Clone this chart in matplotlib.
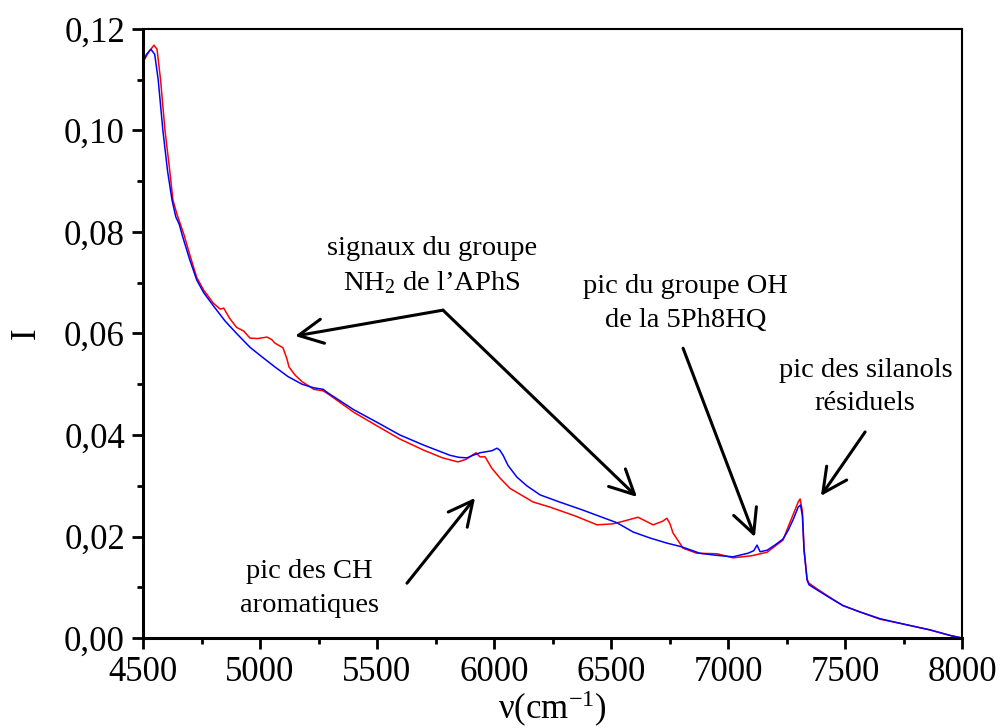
import matplotlib
matplotlib.use("Agg")
import matplotlib.pyplot as plt
from matplotlib.ticker import FuncFormatter, MultipleLocator

plt.rcParams['font.family'] = ['Liberation Serif', 'DejaVu Serif']
plt.rcParams['mathtext.fontset'] = 'custom'
plt.rcParams['mathtext.rm'] = 'Liberation Serif'
plt.rcParams['mathtext.it'] = 'Liberation Serif:italic'

# spectre bleu
wn_blue = [4500, 4515, 4534, 4550, 4565, 4585, 4605, 4624, 4640, 4655, 4670, 4700,
           4730, 4760, 4800, 4850, 4900, 4957, 5000, 5064, 5120, 5180, 5230, 5270,
           5290, 5350, 5400, 5500, 5598, 5700, 5812, 5850, 5885, 5910, 5940, 5991,
           6013, 6025, 6039, 6060, 6098, 6140, 6197, 6280, 6380, 6450, 6526, 6594,
           6667, 6739, 6800, 6880, 6950, 7021, 7085, 7110, 7124, 7137, 7167, 7200,
           7235, 7257, 7280, 7300, 7310, 7318, 7325, 7338, 7346, 7380, 7436, 7491,
           7560, 7650, 7735, 7863, 7950, 8000]
I_blue = [0.1135, 0.1150, 0.1160, 0.1150, 0.1100, 0.1000, 0.0920, 0.0863, 0.0830,
          0.0815, 0.0790, 0.0745, 0.0705, 0.0680, 0.0655, 0.0625, 0.0600, 0.0573,
          0.0557, 0.0534, 0.0515, 0.0500, 0.0493, 0.0490, 0.0483, 0.0465, 0.0450,
          0.0425, 0.0400, 0.0380, 0.0360, 0.0356, 0.0355, 0.0360, 0.0365, 0.0369,
          0.0374, 0.0370, 0.0360, 0.0340, 0.0317, 0.0300, 0.0282, 0.0268, 0.0252,
          0.0240, 0.0227, 0.0209, 0.0197, 0.0187, 0.0180, 0.0167, 0.0163, 0.0160,
          0.0167, 0.0172, 0.0183, 0.0170, 0.0173, 0.0183, 0.0195, 0.0212, 0.0235,
          0.0258, 0.0262, 0.0240, 0.0173, 0.0114, 0.0105, 0.0095, 0.0079, 0.0064,
          0.0052, 0.0038, 0.0029, 0.0016, 0.0005, 0.0]

# spectre rouge
wn_red = [4500, 4525, 4547, 4560, 4575, 4594, 4612, 4628, 4645, 4660, 4675, 4700,
          4730, 4760, 4800, 4830, 4845, 4870, 4900, 4930, 4957, 4990, 5030, 5050,
          5064, 5098, 5115, 5124, 5150, 5180, 5230, 5270, 5300, 5400, 5500, 5598,
          5700, 5780, 5846, 5880, 5923, 5940, 5962, 5990, 6026, 6068, 6167, 6239,
          6350, 6440, 6509, 6568, 6615, 6650, 6680, 6720, 6739, 6752, 6765, 6808,
          6867, 6953, 7021, 7100, 7167, 7235, 7257, 7280, 7300, 7308, 7318, 7325,
          7338, 7346, 7380, 7436, 7491, 7560, 7650, 7735, 7863, 7950, 8000]
I_red = [0.1135, 0.1155, 0.1168, 0.1160, 0.1100, 0.1000, 0.0930, 0.0863, 0.0835,
         0.0815, 0.0795, 0.0755, 0.0710, 0.0685, 0.0660, 0.0648, 0.0650, 0.0630,
         0.0612, 0.0605, 0.0591, 0.0590, 0.0593, 0.0588, 0.0581, 0.0572, 0.0550,
         0.0534, 0.0518, 0.0505, 0.0490, 0.0487, 0.0478, 0.0445, 0.0418, 0.0392,
         0.0370, 0.0355, 0.0347, 0.0352, 0.0365, 0.0357, 0.0357, 0.0335, 0.0315,
         0.0295, 0.0268, 0.0258, 0.0240, 0.0223, 0.0225, 0.0232, 0.0238, 0.0230,
         0.0223, 0.0230, 0.0236, 0.0225, 0.0207, 0.0177, 0.0167, 0.0166, 0.0158,
         0.0162, 0.0169, 0.0193, 0.0219, 0.0245, 0.0268, 0.0274, 0.0250, 0.0175,
         0.0116, 0.0108, 0.0097, 0.0080, 0.0064, 0.0052, 0.0037, 0.0029, 0.0016,
         0.0005, 0.0]

fig = plt.figure(figsize=(10, 7.28), dpi=100)
ax = fig.add_axes([0.143, 0.1236, 0.819, 0.8366])

ax.plot(wn_red, I_red, color='#ff0000', lw=1.1)
ax.plot(wn_blue, I_blue, color='#0000ff', lw=1.1)

ax.set_xlim(4500, 8000)
ax.set_ylim(0, 0.12)
ax.xaxis.set_major_locator(MultipleLocator(500))
ax.xaxis.set_minor_locator(MultipleLocator(250))
ax.yaxis.set_major_locator(MultipleLocator(0.02))
ax.yaxis.set_minor_locator(MultipleLocator(0.01))
ax.yaxis.set_major_formatter(FuncFormatter(lambda v, p: f"{v:.2f}".replace('.', ',')))

ax.tick_params(which='major', direction='out', length=8, width=2, labelsize=25, pad=5)
ax.tick_params(which='minor', direction='out', length=4, width=2)
ax.tick_params(top=False, right=False)
for s in ['left', 'bottom']:
    ax.spines[s].set_linewidth(2.2)
for s in ['top', 'right']:
    ax.spines[s].set_linewidth(1.5)

ax.set_xlabel(r"ν(cm$^{-1}$)", fontsize=25, labelpad=0)
ax.set_ylabel("I", fontsize=25, labelpad=15)

# annotations
fs = 20.5
ax.text(5735, 0.0755, "signaux du groupe", fontsize=fs, ha='center', va='baseline')
ax.text(5735, 0.0686, r"NH$_2$ de l’APhS", fontsize=fs, ha='center', va='baseline')
ax.text(6820, 0.0680, "pic du groupe OH", fontsize=fs, ha='center', va='baseline')
ax.text(6820, 0.0613, "de la 5Ph8HQ", fontsize=fs, ha='center', va='baseline')
ax.text(7590, 0.0514, "pic des silanols", fontsize=fs, ha='center', va='baseline')
ax.text(7585, 0.0449, "résiduels", fontsize=fs, ha='center', va='baseline')
ax.text(5210, 0.0118, "pic des CH", fontsize=fs, ha='center', va='baseline')
ax.text(5212, 0.0051, "aromatiques", fontsize=fs, ha='center', va='baseline')

arrow = dict(arrowstyle='->,head_length=0.5,head_width=0.25', lw=2.2,
             color='black', shrinkA=0, shrinkB=0, mutation_scale=35)
arrows = [
    ((5782, 0.0646), (5150, 0.0595)),
    ((5782, 0.0646), (6611, 0.0278)),
    ((6808, 0.0571), (7115, 0.0199)),
    ((7586, 0.0406), (7397, 0.0280)),
    ((5628, 0.0108), (5919, 0.0276)),
]
for start, tip in arrows:
    ax.annotate("", xy=tip, xytext=start, arrowprops=arrow)

fig.savefig("out.png", dpi=100)
